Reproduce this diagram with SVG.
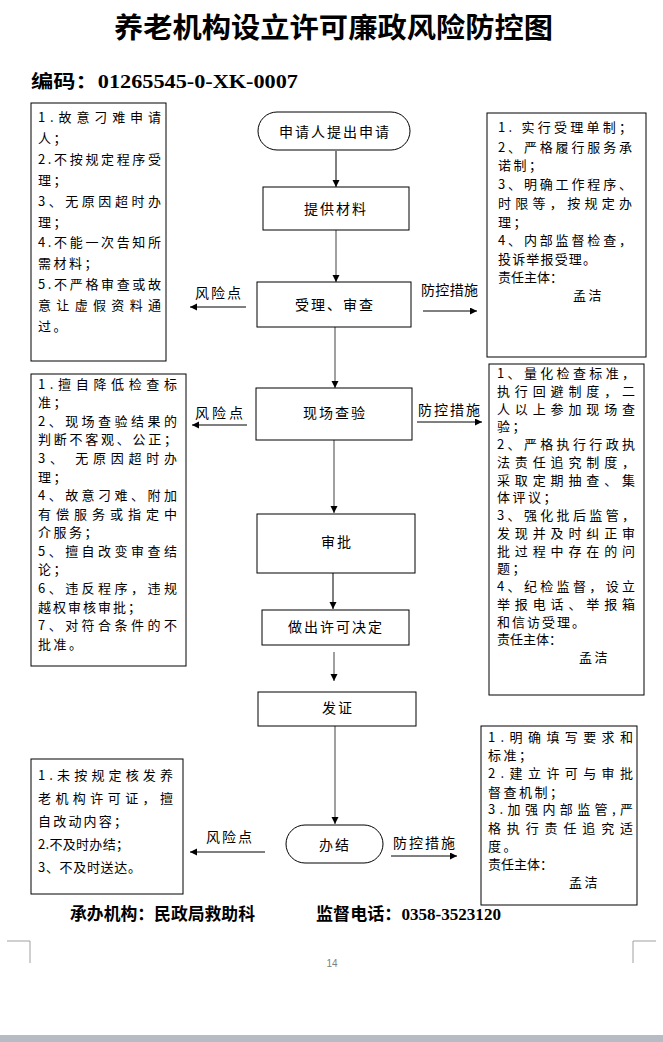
<svg xmlns="http://www.w3.org/2000/svg" width="663" height="1042" viewBox="0 0 663 1042">
<defs>
<style>
.bx{fill:#fff;stroke:#000;stroke-width:1}
.t{font-family:"Noto Sans CJK SC","Liberation Sans",sans-serif;font-size:13px;fill:#000}
.s{letter-spacing:2.5px}
.c{font-family:"Noto Sans CJK SC","Liberation Sans",sans-serif;font-size:14px;fill:#000;text-anchor:middle;letter-spacing:2px}
.lb{font-family:"Noto Sans CJK SC","Liberation Sans",sans-serif;font-size:14px;fill:#000}
.k{stroke:#000;stroke-width:1;fill:none;marker-end:url(#ah)}
.g{stroke:#808080;stroke-width:1.5;fill:none;marker-end:url(#ah)}
.hd{font-family:"Liberation Serif","Noto Sans CJK SC",serif;font-weight:bold;fill:#000}
</style>
<marker id="ah" markerUnits="userSpaceOnUse" markerWidth="8" markerHeight="8" refX="7" refY="3.5" orient="auto">
<path d="M0,0 L7,3.5 L0,7 z" fill="#000"/>
</marker>
</defs>
<rect width="663" height="1042" fill="#fff"/>

<g id="title">
<text x="114" y="38" class="hd" font-size="28" textLength="439" lengthAdjust="spacingAndGlyphs" style="font-family:'Noto Sans CJK SC',serif">养老机构设立许可廉政风险防控图</text>
<text x="31" y="88" class="hd" font-size="18" textLength="267" lengthAdjust="spacingAndGlyphs">编码：01265545-0-XK-0007</text>
</g>

<g id="connectors">
<line class="k" x1="336" y1="151" x2="336" y2="187"/>
<line class="g" x1="336" y1="230" x2="336" y2="282"/>
<line class="g" x1="335" y1="327" x2="335" y2="388"/>
<line class="g" x1="334" y1="440" x2="334" y2="513"/>
<line class="k" x1="333" y1="573" x2="333" y2="609"/>
<line class="g" x1="334" y1="652" x2="334" y2="681"/>
<line class="g" x1="335" y1="726" x2="335" y2="824"/>
<line class="k" x1="246" y1="307" x2="190" y2="307"/>
<line class="k" x1="423" y1="311" x2="477" y2="311"/>
<line class="k" x1="247" y1="425" x2="192" y2="425"/>
<line class="k" x1="417" y1="422" x2="482" y2="422"/>
<line class="k" x1="265" y1="852" x2="190" y2="852"/>
<line class="k" x1="391" y1="856" x2="457" y2="856"/>
<text class="lb" x="195" y="298" textLength="46">风险点</text>
<text class="lb" x="421" y="295" textLength="57">防控措施</text>
<text class="lb" x="195" y="418" textLength="48">风险点</text>
<text class="lb" x="418" y="415" textLength="62">防控措施</text>
<text class="lb" x="206" y="842" textLength="46">风险点</text>
<text class="lb" x="393" y="848" textLength="62">防控措施</text>
</g>

<g id="n_start">
<rect class="bx" x="258" y="112" width="152" height="38" rx="19" ry="19"/>
<text class="c" x="335" y="137">申请人提出申请</text>
</g>
<g id="n_materials">
<rect class="bx" x="263" y="187" width="146" height="43"/>
<text class="c" x="336" y="214">提供材料</text>
</g>
<g id="n_accept">
<rect class="bx" x="257" y="282" width="154" height="45"/>
<text class="c" x="335" y="310">受理、审查</text>
</g>
<g id="n_inspect">
<rect class="bx" x="256" y="388" width="156" height="52"/>
<text class="c" x="335" y="418">现场查验</text>
</g>
<g id="n_approve">
<rect class="bx" x="257" y="514" width="158" height="59"/>
<text class="c" x="337" y="547">审批</text>
</g>
<g id="n_decide">
<rect class="bx" x="262" y="610" width="147" height="35"/>
<text class="c" x="336" y="632">做出许可决定</text>
</g>
<g id="n_issue">
<rect class="bx" x="258" y="692" width="158" height="34"/>
<text class="c" x="338" y="713">发证</text>
</g>
<g id="n_finish">
<rect class="bx" x="286" y="825" width="97" height="38" rx="19" ry="19"/>
<text class="c" x="335" y="850">办结</text>
</g>

<g id="risk1">
<rect class="bx" x="31" y="103" width="135" height="258"/>
<text class="t" x="38" y="122" textLength="123">1.故意刁难申请</text>
<text class="t s" x="38" y="143">人；</text>
<text class="t" x="38" y="164" textLength="123">2.不按规定程序受</text>
<text class="t s" x="38" y="185">理；</text>
<text class="t" x="38" y="206" textLength="123">3、无原因超时办</text>
<text class="t s" x="38" y="227">理；</text>
<text class="t" x="38" y="247" textLength="123">4.不能一次告知所</text>
<text class="t s" x="38" y="268">需材料；</text>
<text class="t" x="38" y="289" textLength="123">5.不严格审查或故</text>
<text class="t" x="38" y="310" textLength="123">意让虚假资料通</text>
<text class="t s" x="38" y="331">过。</text>
</g>

<g id="control1">
<rect class="bx" x="487" y="113" width="159" height="244"/>
<text class="t" x="498" y="132" textLength="134">1. 实行受理单制；</text>
<text class="t" x="498" y="152" textLength="134">2、严格履行服务承</text>
<text class="t s" x="498" y="170">诺制；</text>
<text class="t" x="498" y="189" textLength="134">3、明确工作程序、</text>
<text class="t" x="498" y="208" textLength="134">时限等，按规定办</text>
<text class="t s" x="498" y="227">理；</text>
<text class="t" x="498" y="245" textLength="134">4、内部监督检查，</text>
<text class="t" x="498" y="264" textLength="98">投诉举报受理。</text>
<text class="t" x="498" y="282">责任主体：</text>
<text class="t s" x="573" y="300">孟洁</text>
</g>

<g id="risk2">
<rect class="bx" x="31" y="374" width="155" height="292"/>
<text class="t" x="38" y="389" textLength="139">1.擅自降低检查标</text>
<text class="t s" x="38" y="407">准；</text>
<text class="t" x="38" y="426" textLength="139">2、现场查验结果的</text>
<text class="t" x="38" y="444" textLength="139">判断不客观、公正；</text>
<text class="t" x="38" y="463" textLength="139">3、 无原因超时办</text>
<text class="t s" x="38" y="482">理；</text>
<text class="t" x="38" y="500" textLength="139">4、故意刁难、附加</text>
<text class="t" x="38" y="519" textLength="139">有偿服务或指定中</text>
<text class="t s" x="38" y="537">介服务；</text>
<text class="t" x="38" y="556" textLength="139">5、擅自改变审查结</text>
<text class="t s" x="38" y="574">论；</text>
<text class="t" x="38" y="593" textLength="139">6、违反程序，违规</text>
<text class="t" x="38" y="612" textLength="103">越权审核审批；</text>
<text class="t" x="38" y="630" textLength="139">7、对符合条件的不</text>
<text class="t s" x="38" y="649">批准。</text>
</g>

<g id="control2">
<rect class="bx" x="489" y="364" width="155" height="331"/>
<text class="t" x="497" y="378" textLength="138">1、量化检查标准，</text>
<text class="t" x="497" y="396" textLength="138">执行回避制度，二</text>
<text class="t" x="497" y="414" textLength="138">人以上参加现场查</text>
<text class="t s" x="497" y="431">验；</text>
<text class="t" x="497" y="449" textLength="138">2、严格执行行政执</text>
<text class="t" x="497" y="467" textLength="138">法责任追究制度，</text>
<text class="t" x="497" y="485" textLength="138">采取定期抽查、集</text>
<text class="t s" x="497" y="502">体评议；</text>
<text class="t" x="497" y="520" textLength="138">3、强化批后监管，</text>
<text class="t" x="497" y="538" textLength="138">发现并及时纠正审</text>
<text class="t" x="497" y="556" textLength="138">批过程中存在的问</text>
<text class="t s" x="497" y="573">题；</text>
<text class="t" x="497" y="591" textLength="138">4、纪检监督，设立</text>
<text class="t" x="497" y="609" textLength="138">举报电话、举报箱</text>
<text class="t" x="497" y="627" textLength="88">和信访受理。</text>
<text class="t" x="497" y="644">责任主体：</text>
<text class="t s" x="579" y="662">孟洁</text>
</g>

<g id="risk3">
<rect class="bx" x="31" y="759" width="152" height="135"/>
<text class="t" x="38" y="780" textLength="135">1.未按规定核发养</text>
<text class="t" x="38" y="803" textLength="135">老机构许可证，擅</text>
<text class="t" x="38" y="826" textLength="89">自改动内容；</text>
<text class="t" x="38" y="849" textLength="91">2.不及时办结；</text>
<text class="t" x="38" y="872" textLength="103">3、不及时送达。</text>
</g>

<g id="control3">
<rect class="bx" x="481" y="726" width="156" height="179"/>
<text class="t" x="488" y="742" textLength="145">1.明确填写要求和</text>
<text class="t s" x="488" y="760">标准；</text>
<text class="t" x="488" y="778" textLength="145">2.建立许可与审批</text>
<text class="t s" x="488" y="797">督查机制；</text>
<text class="t" x="488" y="814" textLength="145">3.加强内部监管,严</text>
<text class="t" x="488" y="833" textLength="145">格执行责任追究适</text>
<text class="t s" x="488" y="851">度。</text>
<text class="t" x="488" y="869">责任主体：</text>
<text class="t s" x="569" y="887">孟洁</text>
</g>

<g id="footer">
<text x="70" y="920" class="hd" font-size="17" textLength="185" lengthAdjust="spacingAndGlyphs">承办机构：民政局救助科</text>
<text x="316" y="920" class="hd" font-size="17" textLength="185" lengthAdjust="spacingAndGlyphs">监督电话：0358-3523120</text>
<path d="M7,941 H30 V963 M656,941 H633 V963" fill="none" stroke="#a0a0a0" stroke-width="1"/>
<text x="332" y="967" font-family="Liberation Sans,sans-serif" font-size="10" fill="#808080" text-anchor="middle">14</text>
<rect x="0" y="1035" width="663" height="7" fill="#b7bbc3"/>
</g>
</svg>
